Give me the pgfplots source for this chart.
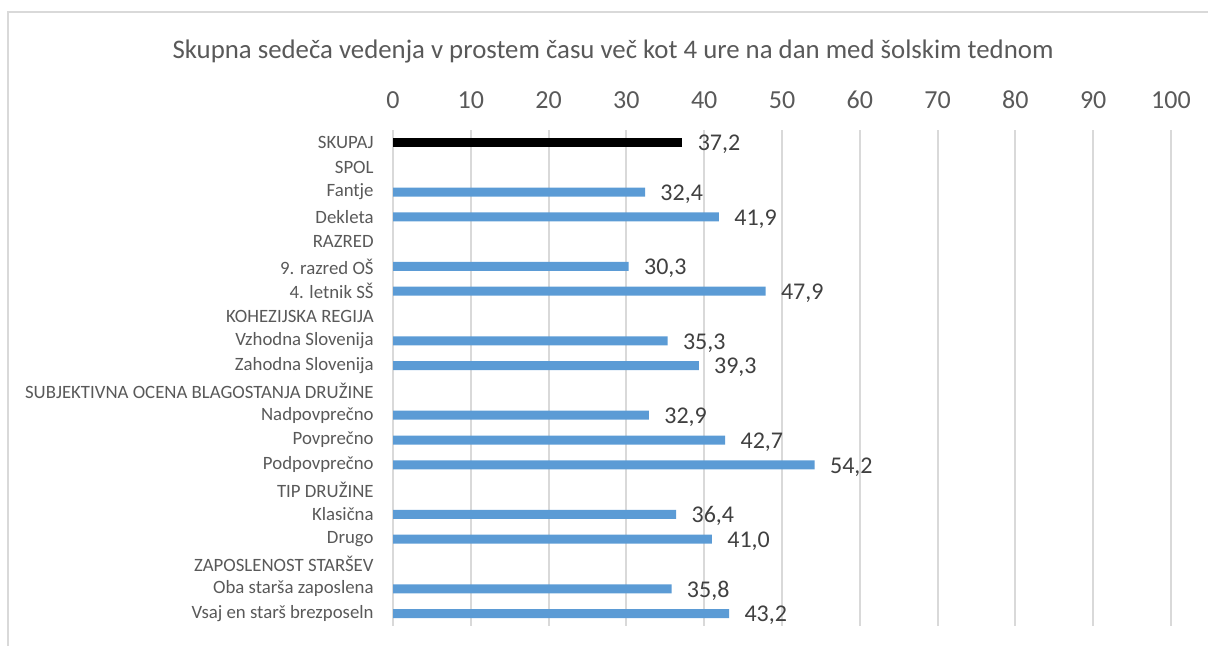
\documentclass[border=0pt]{standalone}
\usepackage{fontspec}
\setmainfont{Carlito}
\usepackage{pgfplots}
\pgfplotsset{compat=1.18}
\definecolor{barblue}{HTML}{5B9BD5}
\definecolor{gridc}{HTML}{D9D9D9}
\definecolor{txt}{HTML}{595959}
\definecolor{valc}{HTML}{404040}

\begin{document}
\begin{tikzpicture}[x=0.5pt, y=-0.5pt]
\path[use as bounding box] (0,0) rectangle (1208,646);
\draw[gridc, line width=1pt] (8,646) -- (8,12) -- (1208,12);
\node[font=\fontsize{13.4}{16}\selectfont, text=txt] at (613,51)
  {Skupna sedeča vedenja v prostem času več kot 4 ure na dan med šolskim tednom};
\begin{axis}[
  at={(196.5pt,-65pt)}, anchor=north west,
  scale only axis, width=389pt, height=248pt,
  xmin=0, xmax=100, xtick={0,10,...,100},
  ymin=-0.5, ymax=19.5, y dir=reverse,
  ytick={0,...,19},
  yticklabels={SKUPAJ, SPOL, Fantje, Dekleta, RAZRED, 9. razred OŠ, 4. letnik SŠ,
    KOHEZIJSKA REGIJA, Vzhodna Slovenija, Zahodna Slovenija,
    SUBJEKTIVNA OCENA BLAGOSTANJA DRUŽINE, Nadpovprečno, Povprečno, Podpovprečno,
    TIP DRUŽINE, Klasična, Drugo, ZAPOSLENOST STARŠEV, Oba starša zaposlena,
    Vsaj en starš brezposeln},
  axis line style={draw=none},
  major tick length=0pt,
  xmajorgrids, grid style={gridc, line width=1pt},
  xticklabel pos=upper,
  /pgf/number format/assume math mode=true,
  xticklabel style={font=\fontsize{13}{15}\selectfont, text=txt, anchor=base, inner sep=0pt, yshift=11pt},
  yticklabel style={font=\fontsize{9.4}{11}\selectfont, text=txt, anchor=east, inner sep=0pt, xshift=-9.5pt},
  xbar, bar width=4.5pt, bar shift=0pt,
  point meta=x,
  nodes near coords={\pgfmathprintnumber[use comma,fixed,fixed zerofill,precision=1]{\pgfplotspointmeta}},
  every node near coord/.append style={font=\fontsize{12}{14}\selectfont, text=valc, anchor=west, inner sep=0pt, xshift=7.5pt, yshift=-1pt},
  clip=false]
\addplot[draw=none, fill=black] coordinates {(37.2,0)};
\addplot[draw=none, fill=barblue] coordinates {
  (32.4,2) (41.9,3) (30.3,5) (47.9,6) (35.3,8) (39.3,9)
  (32.9,11) (42.7,12) (54.2,13) (36.4,15) (41.0,16) (35.8,18) (43.2,19)};
\end{axis}
\end{tikzpicture}
\end{document}
